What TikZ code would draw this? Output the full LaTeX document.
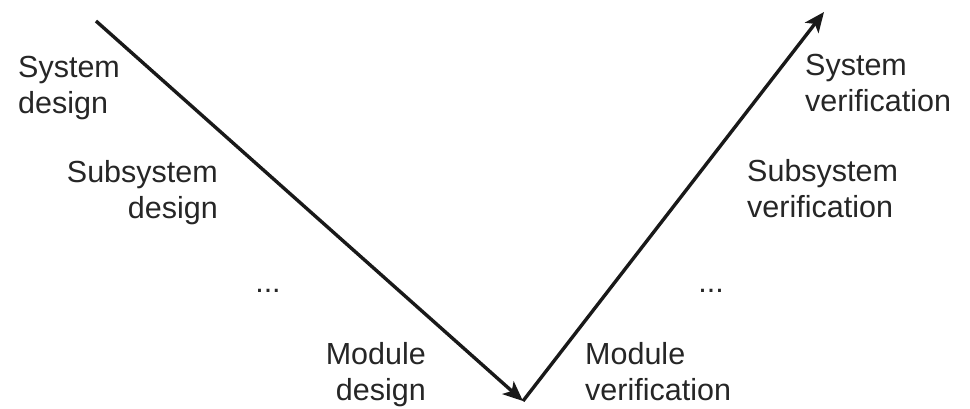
\documentclass[tikz,border=0pt]{standalone}
\usepackage{fontspec}
\setmainfont{Liberation Sans}
\usetikzlibrary{arrows.meta}
\begin{document}
\begin{tikzpicture}[x=1pt,y=-1pt,
  lbl/.style={inner sep=0pt,font=\fontsize{30.5}{36}\selectfont,text=black!85},
  lleft/.style={lbl,align=left,anchor=base west},
  lright/.style={lbl,align=right,anchor=base east},
  vline/.style={line width=3.4pt,black!90,-{Stealth[length=20pt,width=17pt,inset=5pt]}}]
\useasboundingbox (0,0) rectangle (970,408);
% ends of the V
\coordinate (start) at (96,21);
\coordinate (bottom) at (523,401);
\coordinate (finish) at (824,12);
% design side (anchor sits on the baseline of the last line)
\node[lleft]  (sysd)  at (18,113)  {System\\design};
\node[lright] (subd)  at (218,218) {Subsystem\\design};
\node[lbl,anchor=base] (dotsl) at (268,292) {...};
\node[lright] (modd)  at (426,400) {Module\\design};
% verification side
\node[lleft]  (modv)  at (585,400) {Module\\verification};
\node[lbl,anchor=base] (dotsr) at (711,292) {...};
\node[lleft]  (subv)  at (747,217) {Subsystem\\verification};
\node[lleft]  (sysv)  at (805,111) {System\\verification};
% the V
\draw[vline] (start) -- (bottom);
\draw[vline] (bottom) -- (finish);
\end{tikzpicture}
\end{document}
